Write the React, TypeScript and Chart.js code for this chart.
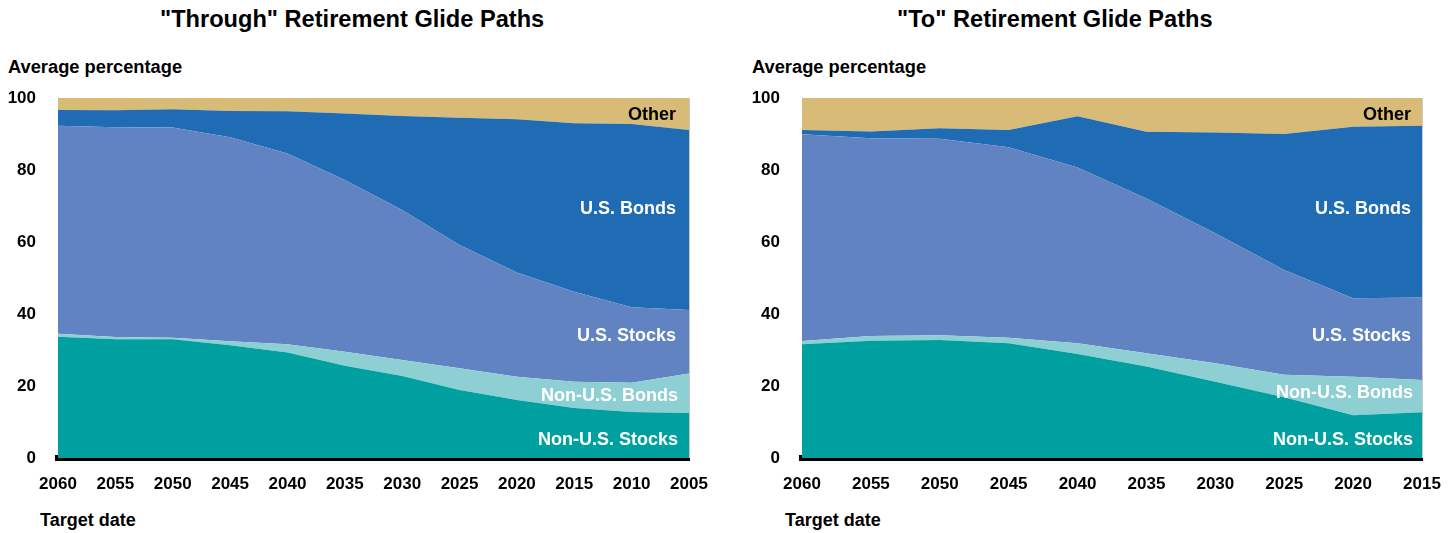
import React, { useEffect, useRef } from "react";
import { Chart, registerables } from "chart.js";

Chart.register(...registerables);

const FONT = '"Liberation Sans", Arial, sans-serif';

// ---- "Through" glide paths ----
const throughYears = ["2060", "2055", "2050", "2045", "2040", "2035", "2030", "2025", "2020", "2015", "2010", "2005"];
const throughNonUSStocks = [33.7, 33.0, 33.0, 31.3, 29.3, 25.6, 22.8, 18.9, 16.1, 13.9, 12.8, 12.5];
const throughNonUSBonds = [0.8, 0.6, 0.4, 1.1, 2.3, 3.9, 4.4, 6.0, 6.5, 7.3, 8.1, 11.0];
const throughUSStocks = [57.8, 58.3, 58.4, 56.7, 53.0, 47.7, 41.7, 34.3, 28.9, 25.0, 21.0, 17.6];
const throughUSBonds = [4.4, 4.7, 5.1, 7.3, 11.7, 18.5, 26.1, 35.3, 42.6, 46.8, 50.9, 50.0];
const throughOther = [3.3, 3.4, 3.1, 3.6, 3.7, 4.3, 5.0, 5.5, 5.9, 7.0, 7.2, 8.9];

// ---- "To" glide paths ----
const toYears = ["2060", "2055", "2050", "2045", "2040", "2035", "2030", "2025", "2020", "2015"];
const toNonUSStocks = [31.6, 32.6, 32.8, 31.9, 28.9, 25.4, 21.2, 16.9, 11.9, 12.7];
const toNonUSBonds = [0.9, 1.3, 1.3, 1.5, 3.0, 3.7, 5.1, 6.2, 10.7, 9.0];
const toUSStocks = [57.4, 54.9, 54.6, 52.9, 48.8, 43.0, 36.1, 29.1, 21.8, 22.9];
const toUSBonds = [1.2, 1.9, 2.9, 4.8, 14.2, 18.5, 28.0, 37.8, 47.6, 47.7];
const toOther = [8.9, 9.3, 8.4, 8.9, 5.1, 9.4, 9.6, 10.0, 8.0, 7.7];

const seriesNames = ["Non-U.S. Stocks", "Non-U.S. Bonds", "U.S. Stocks", "U.S. Bonds", "Other"];
const seriesColors = ["#00A0A0", "#8ECFD4", "#6283C2", "#1F6BB4", "#D9BB78"];
const labelColors = ["#ffffff", "#ffffff", "#ffffff", "#ffffff", "#000000"];
const throughLabelAt = [5.6, 17.8, 34.4, 69.7, 95.8];
const toLabelAt = [5.6, 18.6, 34.4, 69.7, 95.8];

const yMin = 0;
const yMax = 100;
const yStep = 20;

const areaLabels = {
  id: "areaLabels",
  afterDatasetsDraw(chart: any, _args: any, opts: any) {
    const { ctx, chartArea, scales } = chart;
    ctx.save();
    ctx.font = `bold 18px ${FONT}`;
    ctx.textAlign = "right";
    ctx.textBaseline = "middle";
    (opts.items || []).forEach((it: any, i: number) => {
      ctx.fillStyle = it.color;
      const inset = i < 2 ? opts.inset - 2 : opts.inset;
      ctx.fillText(it.text, chartArea.right - inset, scales.y.getPixelForValue(it.value) + 2);
    });
    ctx.strokeStyle = "#c8c8c8";
    ctx.lineWidth = 1;
    ctx.beginPath();
    ctx.moveTo(Math.round(chartArea.right) + 0.5, chartArea.top);
    ctx.lineTo(Math.round(chartArea.right) + 0.5, chartArea.bottom);
    ctx.stroke();
    ctx.restore();
  },
};

function GlideChart(props: {
  labels: string[];
  series: number[][];
  labelAt: number[];
  width: number;
  height: number;
  padRight: number;
  inset: number;
}) {
  const ref = useRef<HTMLCanvasElement>(null);
  useEffect(() => {
    if (!ref.current) return;
    const chart = new Chart(ref.current, {
      type: "line",
      data: {
        labels: props.labels,
        datasets: props.series.map((d, i) => ({
          label: seriesNames[i],
          data: d,
          backgroundColor: seriesColors[i],
          borderColor: seriesColors[i],
          borderWidth: 0,
          pointRadius: 0,
          tension: 0,
          fill: i === 0 ? "origin" : "-1",
        })),
      },
      options: {
        responsive: false,
        animation: false,
        devicePixelRatio: 1,
        layout: { padding: { top: 18, left: 0, right: props.padRight, bottom: 7 } },
        plugins: {
          legend: { display: false },
          title: { display: false },
          tooltip: { enabled: false },
          areaLabels: {
            inset: props.inset,
            items: seriesNames.map((n, i) => ({ text: n, value: props.labelAt[i], color: labelColors[i] })),
          },
        } as any,
        scales: {
          x: {
            type: "category",
            offset: false,
            grid: { display: false, drawTicks: false },
            border: { display: true, color: "#000", width: 6 },
            ticks: {
              color: "#000",
              font: { family: FONT, size: 17, weight: "bold" },
              padding: 16,
              maxRotation: 0,
              autoSkip: false,
            },
            afterFit: (s: any) => {
              s.height = 45;
              s.paddingLeft = 0;
              s.paddingRight = 0;
              s.paddingTop = 0;
              s.paddingBottom = 0;
            },
          },
          y: {
            stacked: true,
            min: yMin,
            max: yMax,
            grid: { display: false, drawTicks: false },
            border: { display: false },
            ticks: {
              stepSize: yStep,
              color: "#000",
              font: { family: FONT, size: 17, weight: "bold" },
              padding: 22,
            },
            afterFit: (s: any) => {
              s.width = 58;
              s.paddingLeft = 0;
              s.paddingRight = 0;
              s.paddingTop = 0;
              s.paddingBottom = 0;
            },
          },
        },
      },
      plugins: [areaLabels as any],
    });
    return () => chart.destroy();
  }, []);
  return (
    <canvas
      ref={ref}
      width={props.width}
      height={props.height}
      style={{ width: props.width, height: props.height, display: "block" }}
    />
  );
}

const txt = (size: number): React.CSSProperties => ({
  position: "absolute",
  fontFamily: FONT,
  fontWeight: "bold",
  fontSize: size,
  lineHeight: `${Math.round(size * 1.15)}px`,
  color: "#000",
  whiteSpace: "nowrap",
});

export default function App() {
  return (
    <div
      style={{
        position: "absolute",
        left: 0,
        top: 0,
        width: 1455,
        height: 533,
        overflow: "hidden",
        background: "#fff",
      }}
    >
      <div style={{ ...txt(23.6), left: 160, top: 6 }}>"Through" Retirement Glide Paths</div>
      <div style={{ ...txt(23.6), left: 897, top: 6 }}>"To" Retirement Glide Paths</div>
      <div style={{ ...txt(18.3), left: 8, top: 56 }}>Average percentage</div>
      <div style={{ ...txt(18.3), left: 752, top: 56 }}>Average percentage</div>
      <div style={{ ...txt(18), left: 40, top: 510 }}>Target date</div>
      <div style={{ ...txt(18), left: 785, top: 510 }}>Target date</div>
      <div style={{ position: "absolute", left: 0, top: 80 }}>
        <GlideChart
          labels={throughYears}
          series={[throughNonUSStocks, throughNonUSBonds, throughUSStocks, throughUSBonds, throughOther]}
          labelAt={throughLabelAt}
          width={720}
          height={430}
          padRight={31}
          inset={13}
        />
      </div>
      <div style={{ position: "absolute", left: 744, top: 80 }}>
        <GlideChart
          labels={toYears}
          series={[toNonUSStocks, toNonUSBonds, toUSStocks, toUSBonds, toOther]}
          labelAt={toLabelAt}
          width={711}
          height={430}
          padRight={33}
          inset={11}
        />
      </div>
    </div>
  );
}
